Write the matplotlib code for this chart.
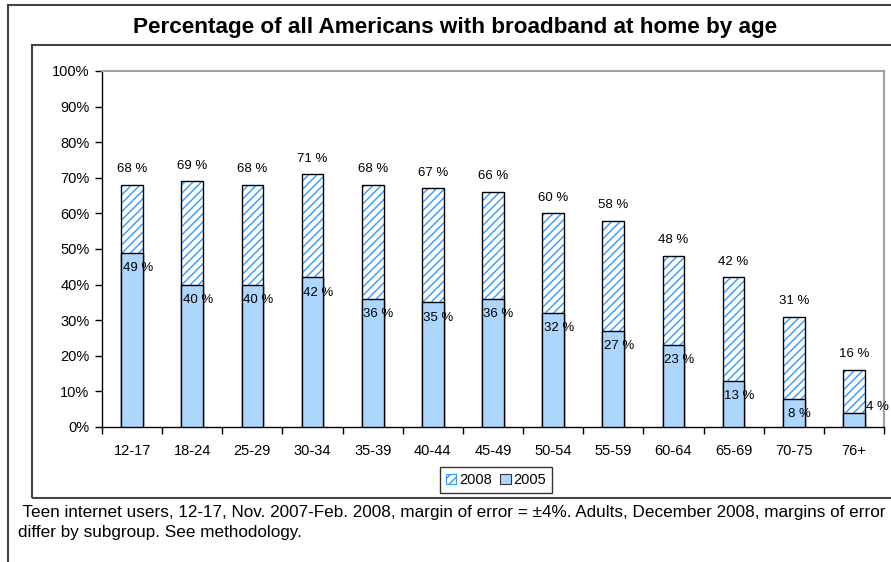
import matplotlib
matplotlib.use("Agg")
import matplotlib.pyplot as plt
from matplotlib.patches import Rectangle, Patch
import numpy as np

plt.rcParams['font.family'] = ['Liberation Sans', 'DejaVu Sans']
plt.rcParams['hatch.linewidth'] = 1.0

# data
ages = ['12-17', '18-24', '25-29', '30-34', '35-39', '40-44', '45-49',
        '50-54', '55-59', '60-64', '65-69', '70-75', '76+']
y2008 = [68, 69, 68, 71, 68, 67, 66, 60, 58, 48, 42, 31, 16]
y2005 = [49, 40, 40, 42, 36, 35, 36, 32, 27, 23, 13, 8, 4]

title = 'Percentage of all Americans with broadband at home by age'
note = (' Teen internet users, 12-17, Nov. 2007-Feb. 2008, margin of error = \u00b14%. '
        'Adults, December 2008, margins of error\ndiffer by subgroup. See methodology.')

blue_fill = '#add6fe'
hatch_col = '#3399ff'

fig = plt.figure(figsize=(8.91, 5.62), dpi=100)
ax = fig.add_axes([102/891, 1-427/562, 782/891, 356/562])

x = np.arange(len(ages))
w = 0.36

# 2008 bars: hatch drawn separately so the outline stays black
ax.bar(x, y2008, w, color='white', edgecolor=hatch_col, hatch='////', linewidth=0, zorder=2)
ax.bar(x, y2008, w, color='none', edgecolor='black', linewidth=1.0, zorder=3)
ax.bar(x, y2005, w, color=blue_fill, edgecolor='black', linewidth=1.0, zorder=4)

for xi, v in zip(x, y2008):
    ax.annotate(f'{v} %', (xi, v), xytext=(0, 7), textcoords='offset points',
                ha='center', va='bottom', fontsize=9.5, zorder=5)
for xi, v in zip(x, y2005):
    if v < 6:
        ax.annotate(f'{v} %', (xi + w/2, v), xytext=(1, 4), textcoords='offset points',
                    ha='left', va='center', fontsize=9.5, zorder=5)
    else:
        ax.annotate(f'{v} %', (xi, v), xytext=(4, -11), textcoords='offset points',
                    ha='center', va='center', fontsize=9.5, zorder=5)

ax.set_xlim(-0.5, len(ages) - 0.5)
ax.set_ylim(0, 100)
ax.set_yticks(range(0, 101, 10))
ax.set_yticklabels([f'{t}%' for t in range(0, 101, 10)], fontsize=10.5)
ax.set_xticks(x)
ax.set_xticklabels(ages, fontsize=10.5)
ax.set_xticks(np.arange(-0.5, len(ages), 1), minor=True)
ax.tick_params(axis='x', which='major', length=0, pad=12)
ax.tick_params(axis='x', which='minor', length=5, width=1, direction='out')
ax.tick_params(axis='y', length=5, width=1, direction='out', pad=4)

for s in ['top', 'right']:
    ax.spines[s].set_color('#a0a0a0')
    ax.spines[s].set_linewidth(1.5)
for s in ['left', 'bottom']:
    ax.spines[s].set_color('black')
    ax.spines[s].set_linewidth(1.0)

handles = [Patch(facecolor='white', edgecolor=hatch_col, hatch='////', linewidth=0.8),
           Patch(facecolor=blue_fill, edgecolor='#333333', linewidth=0.8)]
leg = ax.legend(handles, ['2008', '2005'], loc='center', bbox_to_anchor=(496/891, 1-480/562),
                bbox_transform=fig.transFigure, ncol=2, fontsize=10.5, frameon=True,
                fancybox=False, edgecolor='black', handlelength=0.7, handleheight=0.7,
                handletextpad=0.2, columnspacing=0.6, borderpad=0.4, borderaxespad=0)
leg.get_frame().set_linewidth(1.0)

# outer frames
fig.patches.append(Rectangle((8/891, -0.05), 1.0, 1-5/562 + 0.05, transform=fig.transFigure,
                             fill=False, edgecolor='#444444', linewidth=1.5, zorder=0))
fig.patches.append(Rectangle((32/891, 1-498/562), 1.0, (498-45)/562, transform=fig.transFigure,
                             fill=False, edgecolor='#444444', linewidth=1.5, zorder=0))

fig.text(455/891, 1-27/562, title, ha='center', va='center', fontsize=16.2, fontweight='bold')
fig.text(18/891, 1-505/562, note, ha='left', va='top', fontsize=12.3, linespacing=1.45)

fig.savefig('out.png', dpi=100)
